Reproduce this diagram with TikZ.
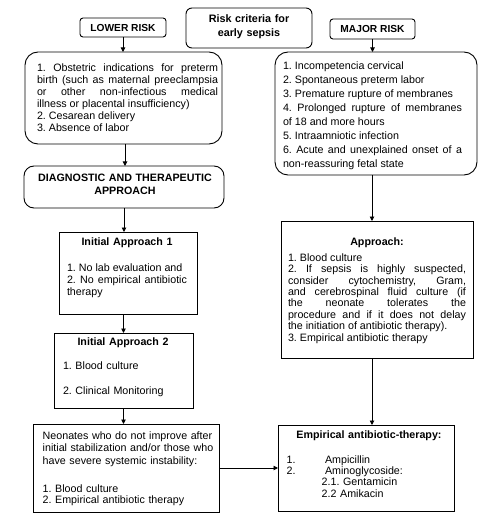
\documentclass[tikz,border=0pt]{standalone}
\usepackage{fontspec}
\setmainfont{Liberation Sans}
\usetikzlibrary{arrows.meta}
\frenchspacing
\begin{document}
\begin{tikzpicture}[x=1pt,y=-1pt,
  box/.style={draw, line width=0.9pt, inner sep=0pt, outer sep=0pt},
  arr/.style={line width=0.9pt, -{Triangle[length=4.5pt,width=4.5pt]}},
  txt/.style={inner sep=0pt, outer sep=0pt, font=\fontsize{10.7}{12}\selectfont},
  ttl/.style={inner sep=0pt, outer sep=0pt, font=\fontsize{10.7}{12.5}\selectfont\bfseries}
]
\useasboundingbox (0,0) rectangle (481,521);

% header boxes
\node[box, rounded corners=3pt, minimum width=86pt, minimum height=19pt,
      font=\fontsize{10.2}{12}\selectfont\bfseries] (lr) at (123,27.5) {LOWER RISK};
\node[box, rounded corners=6pt, minimum width=126pt, minimum height=40pt] (rc) at (249,28) {};
\node[ttl, text width=120pt, align=center, anchor=base, font=\fontsize{10.8}{14}\selectfont\bfseries] (rct) at (249,23) {Risk criteria for\\early sepsis};
\node[box, rounded corners=3pt, minimum width=85pt, minimum height=20pt,
      font=\fontsize{10.2}{12}\selectfont\bfseries] (mr) at (372.5,29) {MAJOR RISK};

% left column
\node[box, rounded corners=13pt, minimum width=197pt, minimum height=92pt] (lb1) at (123.5,98) {};
\node[txt, anchor=base west, text width=181pt, align=justify] (lb1t) at (37,72)
  {1. Obstetric indications for preterm\linebreak birth (such as maternal preeclampsia\linebreak or other non-infectious medical\linebreak illness or placental insufficiency)\\ 2. Cesarean delivery\\ 3. Absence of labor};

\node[box, rounded corners=10pt, minimum width=200pt, minimum height=42pt] (diag) at (124,187) {};
\node[ttl, anchor=base, text width=196pt, align=center] (diagt) at (125,182) {DIAGNOSTIC AND THERAPEUTIC\\APPROACH};

\node[box, minimum width=138pt, minimum height=82pt] (ia1) at (128,273) {};
\node[ttl, anchor=base, text width=130pt, align=center] (ia1h) at (127,245.5) {Initial Approach 1};
\node[txt, anchor=base west, text width=120pt, align=justify] (ia1t) at (67,271.8)
  {1. No lab evaluation and\\ 2. No empirical antibiotic\linebreak therapy};

\node[box, minimum width=139pt, minimum height=75pt] (ia2) at (123.5,370.5) {};
\node[ttl, anchor=base, text width=130pt, align=center] (ia2h) at (123,345.5) {Initial Approach 2};
\node[txt, anchor=base west, text width=120pt, align=left] (ia2t) at (63,369.5)
  {1. Blood culture\\[13pt] 2. Clinical Monitoring};

\node[box, minimum width=186pt, minimum height=88pt] (neo) at (126,468) {};
\node[txt, anchor=base west, text width=175pt, align=left, font=\fontsize{10.7}{12.6}\selectfont] (neot) at (42.7,439.3)
  {Neonates who do not improve after\\ initial stabilization and/or those who\\ have severe systemic instability:\\[15pt] 1. Blood culture\\[-1pt] 2. Empirical antibiotic therapy};

% right column
\node[box, rounded corners=13pt, minimum width=202pt, minimum height=123pt] (rb1) at (376,113.5) {};
\node[txt, anchor=base west, text width=179pt, align=justify, font=\fontsize{10.7}{14}\selectfont] (rb1t) at (283,69.2)
  {1. Incompetencia cervical\\ 2. Spontaneous preterm labor\\ 3. Premature rupture of membranes\\ 4. Prolonged rupture of membranes\linebreak of 18 and more hours\\ 5. Intraamniotic infection\\ 6. Acute and unexplained onset of a\linebreak non-reassuring fetal state};

\node[box, minimum width=192pt, minimum height=137pt] (app) at (377,289.5) {};
\node[ttl, anchor=base, text width=150pt, align=center] (apph) at (377,245) {Approach:};
\node[txt, anchor=base west, text width=178pt, align=justify, font=\fontsize{10.7}{11.4}\selectfont] (appt) at (288,261.2)
  {1. Blood culture\\ 2. If sepsis is highly suspected,\linebreak consider cytochemistry, Gram,\linebreak and cerebrospinal fluid culture (if\linebreak the neonate tolerates the\linebreak procedure and if it does not delay\linebreak the initiation of antibiotic therapy).\\ 3. Empirical antibiotic therapy};

\node[box, minimum width=176pt, minimum height=86pt] (emp) at (366,468) {};
\node[ttl, anchor=base, text width=170pt, align=center] (emph) at (369,438.3) {Empirical antibiotic-therapy:};
\node[txt, anchor=base west, text width=20pt, align=left, font=\fontsize{10.7}{11.2}\selectfont] (empn) at (286.7,463.3) {1.\\2.};
\node[txt, anchor=base west, text width=100pt, align=left, font=\fontsize{10.7}{11.2}\selectfont] (empa) at (325,463.3) {Ampicillin\\Aminoglycoside:};
\node[txt, anchor=base west, text width=100pt, align=left, font=\fontsize{10.7}{11.6}\selectfont] (empb) at (321.7,485.7) {2.1. Gentamicin\\2.2 Amikacin};

% connectors
\draw[arr] (lr.south) -- (lr.south |- lb1.north);
\draw[arr] ([xshift=1.5pt]lb1.south) -- ([xshift=1.5pt]lb1.south |- diag.north);
\draw[arr] (diag.south) -- (diag.south |- ia1.north);
\draw[arr] (ia2.north |- ia1.south) -- (ia2.north);
\draw[arr] (ia2.south) -- (ia2.south |- neo.north);
\draw[arr] (neo.east) -- (emp.west);
\draw[arr] (mr.south) -- (mr.south |- rb1.north);
\draw[arr] ([xshift=-4pt]rb1.south) -- ([xshift=-4pt]rb1.south |- app.north);
\draw[arr] ([xshift=-5pt]app.south) -- ([xshift=-5pt]app.south |- emp.north);
\end{tikzpicture}
\end{document}
